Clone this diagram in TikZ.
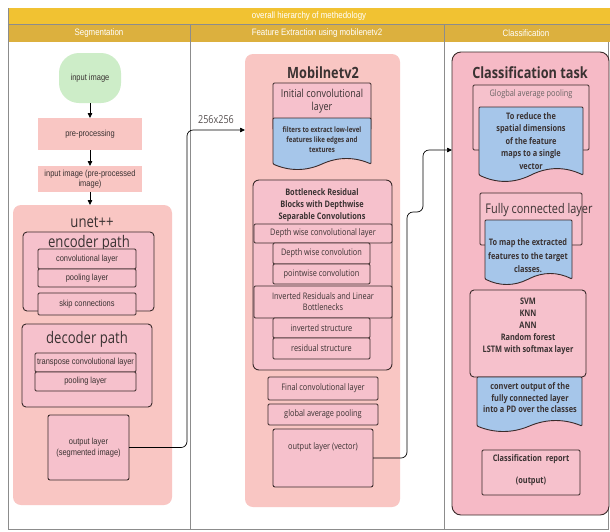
\documentclass[tikz,border=0pt]{standalone}
\usepackage{fontspec}
\setmainfont{Liberation Sans}
\newfontfamily\lsf[FakeStretch=0.85]{Liberation Sans}
\newfontfamily\osf[FakeStretch=0.82]{Open Sans}
\usetikzlibrary{arrows.meta}
\definecolor{ybright}{HTML}{F1C232}
\definecolor{ydark}{HTML}{DCB03E}
\definecolor{salmon}{HTML}{F9C6C3}
\definecolor{pinkbox}{HTML}{F6C1CC}
\definecolor{clsfill}{HTML}{F6BAC6}
\definecolor{greenb}{HTML}{CDEDC8}
\definecolor{blueb}{HTML}{A6C6EA}
\definecolor{edgec}{HTML}{3A2A2A}
\definecolor{txtc}{HTML}{3A3232}
\definecolor{gridc}{HTML}{8C8C8C}
\newcommand\mkbox[7]{%
  \pgfmathsetmacro\mkW{#5-#3}\pgfmathsetmacro\mkH{#6-#4}%
  \pgfmathsetmacro\mkX{(#3+#5)/2}\pgfmathsetmacro\mkY{(#4+#6)/2}%
  \node[#1, minimum width=\mkW pt, minimum height=\mkH pt] (#2) at (\mkX,\mkY) {#7};}
\newcommand\mkdoc[6]{%
  \pgfmathsetmacro\dcB{#5-#6/2}%
  \pgfmathsetmacro\dcW{#4-#2}%
  \pgfmathsetmacro\dcM{(#2+#4)/2}%
  \pgfmathsetmacro\dcUp{\dcB-0.6*#6}%
  \pgfmathsetmacro\dcDn{\dcB+0.6*#6}%
  \pgfmathsetmacro\dcRa{#4-\dcW/6}%
  \pgfmathsetmacro\dcRb{\dcM+\dcW/6}%
  \pgfmathsetmacro\dcLa{\dcM-\dcW/6}%
  \pgfmathsetmacro\dcLb{#2+\dcW/6}%
  \draw[docst] (#2,#3) -- (#4,#3) -- (#4,\dcB) .. controls (\dcRa,\dcUp) and (\dcRb,\dcUp) .. (\dcM,\dcB) .. controls (\dcLa,\dcDn) and (\dcLb,\dcDn) .. (#2,\dcB) -- cycle;
  \coordinate (#1) at (\dcM,{(#3+\dcB)/2});}
\begin{document}
\begin{tikzpicture}[x=1pt,y=-1pt,
  every node/.style={inner sep=0pt, outer sep=0pt, text=txtc},
  pbox/.style={draw=edgec, line width=0.9pt, fill=pinkbox, rounded corners=1.2pt, align=center},
  sbox/.style={fill=salmon, align=center},
  docst/.style={draw=edgec, line width=0.9pt, fill=blueb, rounded corners=1pt},
  arr/.style={-{Triangle[length=5pt,width=4.5pt]}, line width=0.8pt, draw=black},
  conn/.style={line width=0.7pt, draw=black, rounded corners=6pt, -{Triangle[length=5pt,width=4.5pt]}},
  gridl/.style={draw=gridc, line width=0.6pt},
  hdr/.style={text=white, font=\lsf\fontsize{9.3}{11}\selectfont},
  lt/.style={font=\lsf\fontsize{8.8}{10.5}\selectfont},
  bigl/.style={font=\osf\fontsize{16}{18}\selectfont},
  mt/.style={font=\osf\fontsize{9}{11}\selectfont},
  mtb/.style={font=\osf\bfseries\fontsize{9}{12}\selectfont},
  doct/.style={font=\osf\bfseries\fontsize{7.5}{10}\selectfont, align=center},
  ttlb/.style={font=\osf\bfseries\fontsize{15.5}{18}\selectfont}
]
\useasboundingbox (0,0) rectangle (610,531);
\fill[white] (0,0) rectangle (610,531);
% header
\fill[ybright] (8,8) rectangle (610,24);
\fill[ydark] (8,24) rectangle (610,42);
\draw[gridc, line width=0.5pt] (8,24) -- (610,24);
\draw[gridl] (190,24) -- (190,529) (444,24) -- (444,529);
\draw[gridl] (8,8) -- (8,529) -- (608,529) -- (608,42);
\node[hdr] (ttl) at (309,16) {overall hierarchy of methedology};
\node[hdr] (h1) at (99,33) {Segmentation};
\node[hdr] (h2) at (317,33) {Feature Extraction using mobilenetv2};
\node[hdr] (h3) at (526,33) {Classification};

% ---------------- Segmentation
\mkbox{fill=greenb, rounded corners=20pt, lt}{inimg}{59}{53}{121}{103}{input image}
\mkbox{sbox, lt}{pre}{38}{118}{142}{150}{pre-processing}
\mkbox{sbox, lt, align=center}{inpre}{38}{166}{142}{192}{input image (pre-processed\\image)}
\mkbox{fill=salmon, rounded corners=8pt}{unet}{13}{205}{172}{505}{}
\node[bigl] (unett) at (92,222) {unet++};
\mkbox{pbox, rounded corners=4pt}{enc}{23}{232}{154}{311}{}
\node[bigl] (enct) at (89,243) {encoder path};
\mkbox{pbox, lt}{conv}{38}{249}{136}{269}{convolutional layer}
\mkbox{pbox, lt}{pool}{38}{269}{136}{287}{pooling layer}
\mkbox{pbox, lt}{skip}{38}{293}{136}{315}{skip connections}
\mkbox{pbox, rounded corners=4pt}{dec}{22}{324}{152}{407}{}
\node[bigl] (dect) at (87,339) {decoder path};
\mkbox{pbox, lt}{tconv}{35}{353}{136}{372}{transpose convolutional layer}
\mkbox{pbox, lt}{pooltwo}{35}{372}{136}{391}{pooling layer}
\mkbox{pbox, lt, rounded corners=2pt}{outseg}{48}{415}{129}{480}{output layer\\(segmented image)}
\draw[arr] (inimg.south) -- (inimg.south |- pre.north);
\draw[arr] (pre.south) -- (pre.south |- inpre.north);
\draw[arr] (inpre.south) -- (inpre.south |- unet.north);

% ---------------- Feature extraction
\mkbox{fill=salmon, rounded corners=8pt}{mobc}{245}{54}{400}{507}{}
\node[ttlb] (mobt) at (323,73) {Mobilnetv2};
\mkbox{pbox, font=\osf\fontsize{11}{12.5}\selectfont}{initc}{273}{83}{371}{130}{}
\node[font=\osf\fontsize{11}{12.5}\selectfont, align=center] (initt) at (322,101) {Initial convolutional\\layer};
\mkdoc{dfilt}{273}{118}{371}{170}{12}
\node[doct] (filtt) at (322,140) {filters to extract low-level\\features like edges and\\textures};
\mkbox{pbox, rounded corners=6pt}{botc}{253}{180}{392}{370}{}
\node[mtb, align=center] (bott) at (322,205) {Bottleneck Residual\\Blocks with Depthwise\\Separable Convolutions};
\mkbox{pbox, mt}{dwl}{254}{224}{392}{243}{Depth wise convolutional layer}
\mkbox{pbox, mt}{dwc}{273}{243}{370}{264}{Depth wise convolution}
\mkbox{pbox, mt}{pwc}{273}{264}{370}{284}{pointwise convolution}
\mkbox{pbox, mt}{irl}{254}{286}{392}{318}{Inverted Residuals and Linear\\Bottlenecks}
\mkbox{pbox, mt}{invs}{273}{318}{370}{338}{inverted structure}
\mkbox{pbox, mt}{ress}{273}{338}{370}{359}{residual structure}
\mkbox{pbox, mt}{fconv}{268}{377}{378}{400}{Final convolutional layer}
\mkbox{pbox, mt}{gap}{268}{404}{378}{425}{global average pooling}
\mkbox{pbox, rounded corners=2pt}{outvec}{273}{429}{373}{487}{}
\node[mt] (outvect) at (323,447) {output layer (vector)};

% ---------------- Classification
\mkbox{draw=edgec, line width=0.9pt, fill=clsfill, rounded corners=9pt}{cls}{452}{52}{609}{515}{}
\node[ttlb] (clst) at (530,73) {Classification task};
\mkbox{pbox}{gapb}{473}{85}{589}{150}{}
\node[mt, text=txtc!75] (gapt) at (531,94) {Glogbal average pooling};
\mkdoc{dred}{479}{107}{583}{182}{14}
\node[doct, font=\osf\bfseries\fontsize{9}{12.5}\selectfont] (redt) at (531,141) {To reduce the\\spatial dimensions\\of the feature\\maps to a single\\vector};
\mkbox{pbox}{fcb}{480}{193}{582}{245}{}
\node[font=\osf\fontsize{13.3}{15}\selectfont] (fct) at (539,210) {Fully connected layer};
\mkdoc{dmap}{485}{220}{572}{285}{12}
\node[doct, font=\osf\bfseries\fontsize{9}{13.5}\selectfont] (mapt) at (528,256) {To map the extracted\\features to the target\\classes.};
\mkbox{pbox, rounded corners=4pt}{svm}{470}{290}{586}{377}{}
\node[mtb, align=center] (svmt) at (528,326) {SVM\\KNN\\ANN\\Random forest\\LSTM with softmax layer};
\mkdoc{dconv}{477}{377}{582}{432}{12}
\node[doct, font=\osf\bfseries\fontsize{9}{11.5}\selectfont] (convt) at (530,398) {convert output of the\\fully connected layer\\into a PD over the classes};
\mkbox{pbox}{rep}{482}{450}{580}{495}{}
\node[mtb, align=center, font=\osf\bfseries\fontsize{9}{22}\selectfont] (rept) at (531,470) {Classification\ \ report\\(output)};

% ---------------- connectors
\coordinate (ka) at (187,130);
\draw[conn] (outseg.east) -| (ka) -- (ka -| mobc.west);
\node[font=\osf\fontsize{11}{12}\selectfont, text=txtc!85] (size) at (216,120) {256x256};
\coordinate (kb) at (407,212);
\coordinate (kc) at (423,150);
\draw[conn] (outvec.east) -| (kb) -| (kc) -- (kc -| cls.west);
\end{tikzpicture}
\end{document}
